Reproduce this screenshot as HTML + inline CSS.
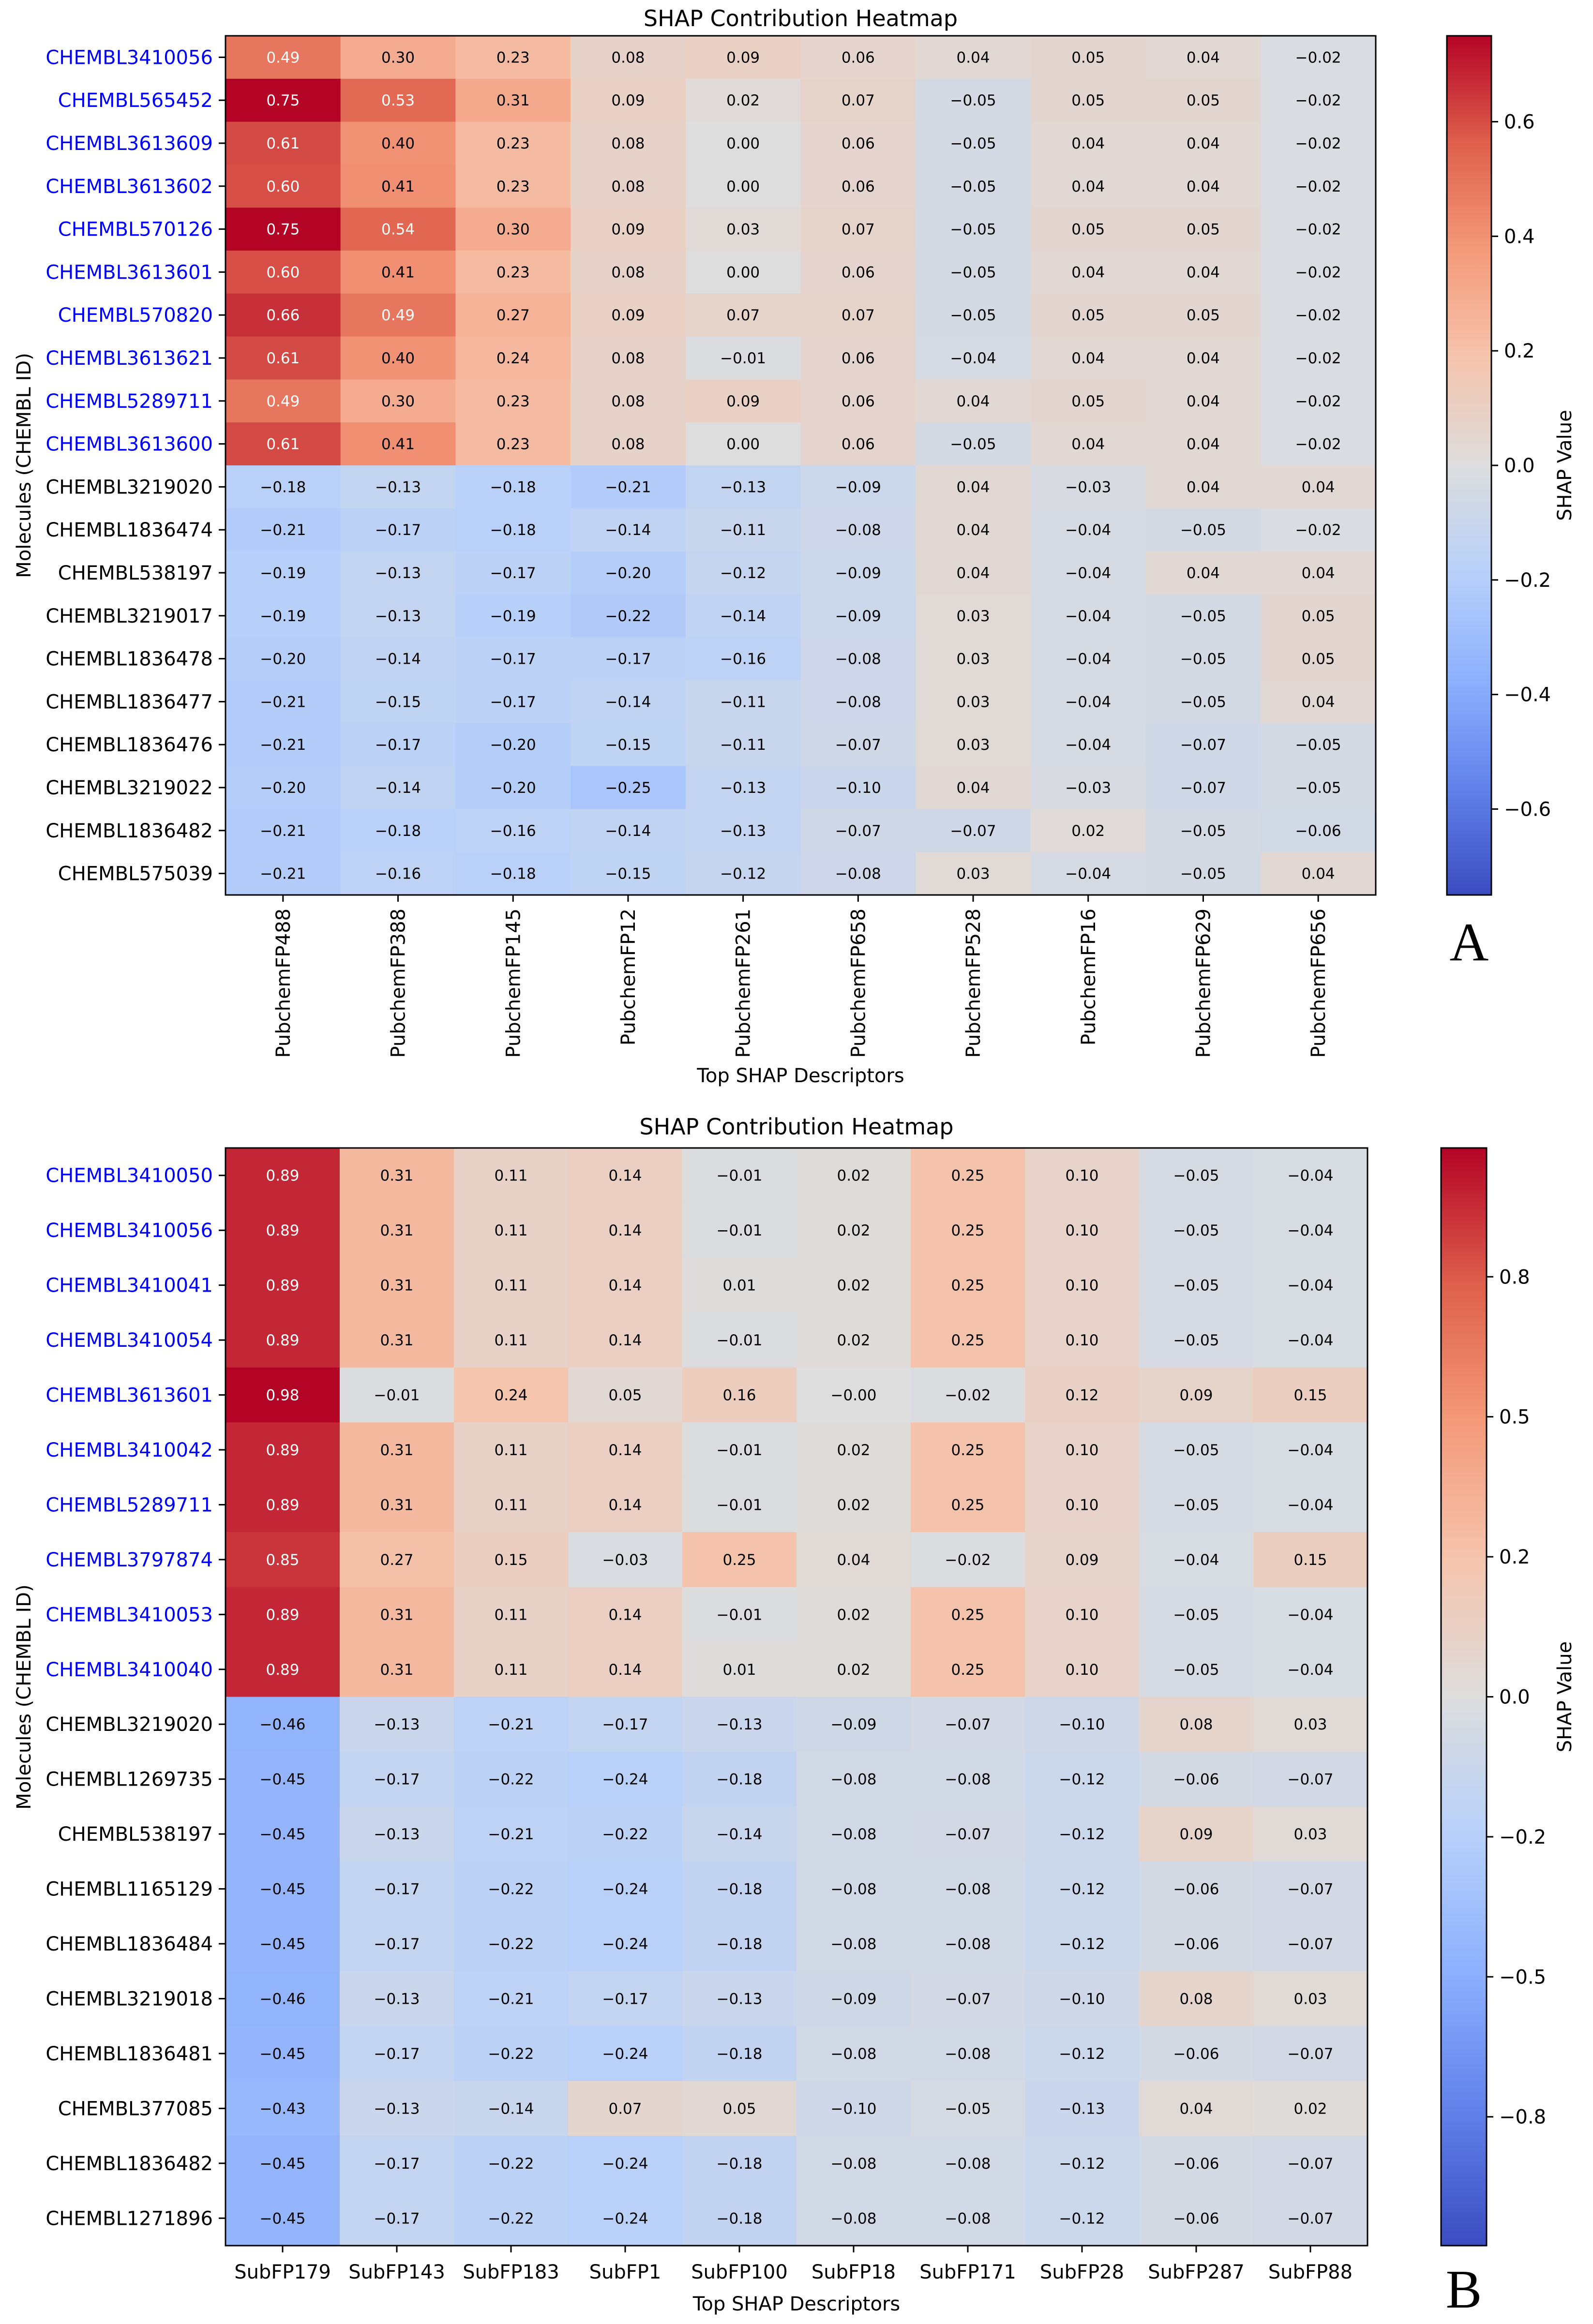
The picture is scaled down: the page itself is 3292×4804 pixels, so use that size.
<!DOCTYPE html>
<html><head><meta charset="utf-8"><style>
html,body{margin:0;padding:0;background:#fff;}
svg{display:block;font-family:"DejaVu Sans","Liberation Sans",sans-serif;}
</style></head><body>
<svg id="fig" width="3292" height="4804" viewBox="0 0 3292 4804" xmlns="http://www.w3.org/2000/svg">
<defs>
<linearGradient id="cw" x1="0" y1="1" x2="0" y2="0">
<stop offset="0" stop-color="rgb(59,76,192)"/><stop offset="0.125" stop-color="rgb(98,130,234)"/>
<stop offset="0.25" stop-color="rgb(141,176,254)"/><stop offset="0.375" stop-color="rgb(184,208,249)"/>
<stop offset="0.5" stop-color="rgb(221,221,221)"/><stop offset="0.625" stop-color="rgb(245,196,173)"/>
<stop offset="0.75" stop-color="rgb(244,154,123)"/><stop offset="0.875" stop-color="rgb(222,96,77)"/>
<stop offset="1" stop-color="rgb(180,4,38)"/>
</linearGradient>
</defs>
</svg>
<script>
const rowsA = ["CHEMBL3410056","CHEMBL565452","CHEMBL3613609","CHEMBL3613602","CHEMBL570126","CHEMBL3613601","CHEMBL570820","CHEMBL3613621","CHEMBL5289711","CHEMBL3613600","CHEMBL3219020","CHEMBL1836474","CHEMBL538197","CHEMBL3219017","CHEMBL1836478","CHEMBL1836477","CHEMBL1836476","CHEMBL3219022","CHEMBL1836482","CHEMBL575039"];
const colsA = ["PubchemFP488","PubchemFP388","PubchemFP145","PubchemFP12","PubchemFP261","PubchemFP658","PubchemFP528","PubchemFP16","PubchemFP629","PubchemFP656"];
const valsA = [
[0.49,0.30,0.23,0.08,0.09,0.06,0.04,0.05,0.04,-0.02],
[0.75,0.53,0.31,0.09,0.02,0.07,-0.05,0.05,0.05,-0.02],
[0.61,0.40,0.23,0.08,0.00,0.06,-0.05,0.04,0.04,-0.02],
[0.60,0.41,0.23,0.08,0.00,0.06,-0.05,0.04,0.04,-0.02],
[0.75,0.54,0.30,0.09,0.03,0.07,-0.05,0.05,0.05,-0.02],
[0.60,0.41,0.23,0.08,0.00,0.06,-0.05,0.04,0.04,-0.02],
[0.66,0.49,0.27,0.09,0.07,0.07,-0.05,0.05,0.05,-0.02],
[0.61,0.40,0.24,0.08,-0.01,0.06,-0.04,0.04,0.04,-0.02],
[0.49,0.30,0.23,0.08,0.09,0.06,0.04,0.05,0.04,-0.02],
[0.61,0.41,0.23,0.08,0.00,0.06,-0.05,0.04,0.04,-0.02],
[-0.18,-0.13,-0.18,-0.21,-0.13,-0.09,0.04,-0.03,0.04,0.04],
[-0.21,-0.17,-0.18,-0.14,-0.11,-0.08,0.04,-0.04,-0.05,-0.02],
[-0.19,-0.13,-0.17,-0.20,-0.12,-0.09,0.04,-0.04,0.04,0.04],
[-0.19,-0.13,-0.19,-0.22,-0.14,-0.09,0.03,-0.04,-0.05,0.05],
[-0.20,-0.14,-0.17,-0.17,-0.16,-0.08,0.03,-0.04,-0.05,0.05],
[-0.21,-0.15,-0.17,-0.14,-0.11,-0.08,0.03,-0.04,-0.05,0.04],
[-0.21,-0.17,-0.20,-0.15,-0.11,-0.07,0.03,-0.04,-0.07,-0.05],
[-0.20,-0.14,-0.20,-0.25,-0.13,-0.10,0.04,-0.03,-0.07,-0.05],
[-0.21,-0.18,-0.16,-0.14,-0.13,-0.07,-0.07,0.02,-0.05,-0.06],
[-0.21,-0.16,-0.18,-0.15,-0.12,-0.08,0.03,-0.04,-0.05,0.04]];
const ticksA = [0.6,0.4,0.2,0.0,-0.2,-0.4,-0.6];
const tickLabelsA = ["0.6","0.4","0.2","0.0","\u22120.2","\u22120.4","\u22120.6"];

const rowsB = ["CHEMBL3410050","CHEMBL3410056","CHEMBL3410041","CHEMBL3410054","CHEMBL3613601","CHEMBL3410042","CHEMBL5289711","CHEMBL3797874","CHEMBL3410053","CHEMBL3410040","CHEMBL3219020","CHEMBL1269735","CHEMBL538197","CHEMBL1165129","CHEMBL1836484","CHEMBL3219018","CHEMBL1836481","CHEMBL377085","CHEMBL1836482","CHEMBL1271896"];
const colsB = ["SubFP179","SubFP143","SubFP183","SubFP1","SubFP100","SubFP18","SubFP171","SubFP28","SubFP287","SubFP88"];
const valsB = [
[0.89,0.31,0.11,0.14,-0.01,0.02,0.25,0.10,-0.05,-0.04],
[0.89,0.31,0.11,0.14,-0.01,0.02,0.25,0.10,-0.05,-0.04],
[0.89,0.31,0.11,0.14,0.01,0.02,0.25,0.10,-0.05,-0.04],
[0.89,0.31,0.11,0.14,-0.01,0.02,0.25,0.10,-0.05,-0.04],
[0.98,-0.01,0.24,0.05,0.16,-0.00,-0.02,0.12,0.09,0.15],
[0.89,0.31,0.11,0.14,-0.01,0.02,0.25,0.10,-0.05,-0.04],
[0.89,0.31,0.11,0.14,-0.01,0.02,0.25,0.10,-0.05,-0.04],
[0.85,0.27,0.15,-0.03,0.25,0.04,-0.02,0.09,-0.04,0.15],
[0.89,0.31,0.11,0.14,-0.01,0.02,0.25,0.10,-0.05,-0.04],
[0.89,0.31,0.11,0.14,0.01,0.02,0.25,0.10,-0.05,-0.04],
[-0.46,-0.13,-0.21,-0.17,-0.13,-0.09,-0.07,-0.10,0.08,0.03],
[-0.45,-0.17,-0.22,-0.24,-0.18,-0.08,-0.08,-0.12,-0.06,-0.07],
[-0.45,-0.13,-0.21,-0.22,-0.14,-0.08,-0.07,-0.12,0.09,0.03],
[-0.45,-0.17,-0.22,-0.24,-0.18,-0.08,-0.08,-0.12,-0.06,-0.07],
[-0.45,-0.17,-0.22,-0.24,-0.18,-0.08,-0.08,-0.12,-0.06,-0.07],
[-0.46,-0.13,-0.21,-0.17,-0.13,-0.09,-0.07,-0.10,0.08,0.03],
[-0.45,-0.17,-0.22,-0.24,-0.18,-0.08,-0.08,-0.12,-0.06,-0.07],
[-0.43,-0.13,-0.14,0.07,0.05,-0.10,-0.05,-0.13,0.04,0.02],
[-0.45,-0.17,-0.22,-0.24,-0.18,-0.08,-0.08,-0.12,-0.06,-0.07],
[-0.45,-0.17,-0.22,-0.24,-0.18,-0.08,-0.08,-0.12,-0.06,-0.07]];
const ticksB = [0.75,0.5,0.25,0.0,-0.25,-0.5,-0.75];
const tickLabelsB = ["0.8","0.5","0.2","0.0","\u22120.2","\u22120.5","\u22120.8"];

const NS = "http://www.w3.org/2000/svg";
const svg = document.getElementById('fig');
const CW = [[59,76,192],[98,130,234],[141,176,254],[184,208,249],[221,221,221],[245,196,173],[244,154,123],[222,96,77],[180,4,38]];
function cmap(t){t=Math.max(0,Math.min(1,t));const p=t*8,i=Math.min(7,Math.floor(p)),f=p-i;const a=CW[i],b=CW[i+1];
return `rgb(${Math.round(a[0]+(b[0]-a[0])*f)},${Math.round(a[1]+(b[1]-a[1])*f)},${Math.round(a[2]+(b[2]-a[2])*f)})`;}
function mk(tag,attrs,parent){const e=document.createElementNS(NS,tag);for(const k in attrs)e.setAttribute(k,attrs[k]);(parent||svg).appendChild(e);return e;}
function fmt(v){const s=Math.abs(v).toFixed(2);return (v<0||Object.is(v,-0))?'\u2212'+s:s;}

function panel(cfg){
  const {rows,cols,vals,L,R,T,B,vmax,cbL,cbR,ticks,tickLabels,rotX,titleY,xTitleY,yTitleC,letter,letterY,id}=cfg;
  const g=mk('g',{});
  
  
  const cw=(R-L)/cols.length, rh=(B-T)/rows.length;
  const xs=i=>L+cw*(i+0.5), ys=j=>T+rh*(j+0.5);
  const cs=v=>cmap((v+vmax)/(2*vmax));
  rows.forEach((r,j)=>cols.forEach((c,i)=>{
    const v=vals[j][i];
    const rc=mk('rect',{x:L+cw*i,y:T+rh*j,width:cw+0.6,height:rh+0.6,fill:cs(v)},g);
    
    
    const t=mk('text',{x:xs(i),y:ys(j)+11,'text-anchor':'middle','font-size':31,fill:Math.abs(v)/vmax>0.6?'#fff':'#000'},g);
    t.textContent=fmt(v);
    
    
  }));
  const fr=mk('rect',{x:L,y:T,width:R-L,height:B-T,fill:'none',stroke:'#000','stroke-width':3},g);
  
  
  rows.forEach((r,j)=>{
    mk('line',{x1:L-14,x2:L,y1:ys(j),y2:ys(j),stroke:'#000','stroke-width':3},g);
    const t=mk('text',{x:L-26,y:ys(j)+14,'text-anchor':'end','font-size':40,fill:j<10?'#0000ff':'#000'},g);
    t.textContent=r;
    
    
  });
  cols.forEach((c,i)=>{
    mk('line',{x1:xs(i),x2:xs(i),y1:B,y2:B+14,stroke:'#000','stroke-width':3},g);
    let t;
    if(rotX){t=mk('text',{x:0,y:0,'text-anchor':'end','font-size':40,transform:`translate(${xs(i)+14},${B+28}) rotate(-90)`},g);}
    else{t=mk('text',{x:xs(i),y:B+68,'text-anchor':'middle','font-size':40},g);}
    t.textContent=c;
    
    
  });
  const cx=(L+R)/2;
  let t=mk('text',{x:cx,y:titleY,'text-anchor':'middle','font-size':46},g);t.textContent='SHAP Contribution Heatmap';
  
  
  t=mk('text',{x:cx,y:xTitleY,'text-anchor':'middle','font-size':40},g);t.textContent='Top SHAP Descriptors';
  
  
  t=mk('text',{x:0,y:0,'text-anchor':'middle','font-size':40,transform:`translate(63,${yTitleC}) rotate(-90)`},g);t.textContent='Molecules (CHEMBL ID)';
  
  
  // colorbar
  const cb=mk('rect',{x:cbL,y:T,width:cbR-cbL,height:B-T,fill:'url(#cw)',stroke:'#000','stroke-width':3},g);
  
  
  const cy=v=>T+(B-T)*(vmax-v)/(2*vmax);
  ticks.forEach((v,k)=>{
    mk('line',{x1:cbR,x2:cbR+14,y1:cy(v),y2:cy(v),stroke:'#000','stroke-width':3},g);
    const tt=mk('text',{x:cbR+26,y:cy(v)+14,'font-size':40},g);tt.textContent=tickLabels[k];
    
    
  });
  t=mk('text',{x:0,y:0,'text-anchor':'middle','font-size':40,transform:`translate(3247,${(T+B)/2}) rotate(-90)`},g);t.textContent='SHAP Value';
  
  
  t=mk('text',{x:(cbL+cbR)/2,y:letterY,'text-anchor':'middle','font-size':112,'font-family':'"Liberation Serif",serif'},g);t.textContent=letter;
  
  
}
panel({id:'a',rows:rowsA,cols:colsA,vals:valsA,L:466,R:2843,T:74,B:1850,vmax:0.75,cbL:2990,cbR:3082,ticks:ticksA,tickLabels:tickLabelsA,rotX:true,titleY:54,xTitleY:2237,yTitleC:962,letter:'A',letterY:1985});
panel({id:'b',rows:rowsB,cols:colsB,vals:valsB,L:466,R:2826,T:2373,B:4642,vmax:0.98,cbL:2978,cbR:3072,ticks:ticksB,tickLabels:tickLabelsB,rotX:false,titleY:2345,xTitleY:4776,yTitleC:3508,letter:'B',letterY:4770});
</script>
</body></html>
